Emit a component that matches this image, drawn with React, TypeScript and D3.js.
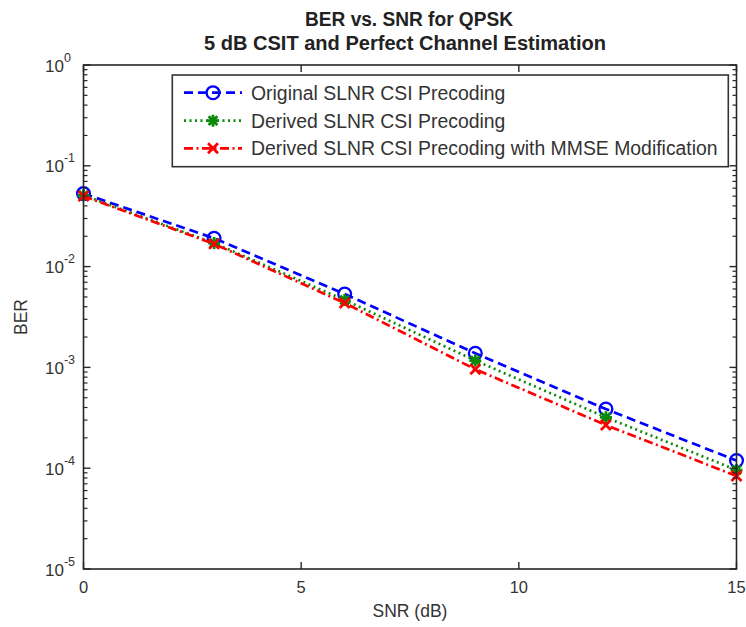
import React from "react";
import * as d3 from "d3";

const snr = [0, 3, 6, 9, 12, 15];
const berOriginal = [0.053, 0.0191, 0.00535, 0.00138, 0.000386, 0.000119];
const berDerived = [0.051, 0.0171, 0.00466, 0.00117, 0.00032, 0.0000959];
const berMMSE = [0.05, 0.0168, 0.00435, 0.000957, 0.000268, 0.0000837];
const seriesNames = [
  "Original SLNR CSI Precoding",
  "Derived SLNR CSI Precoding",
  "Derived SLNR CSI Precoding with MMSE Modification",
];
const xTicks = [0, 5, 10, 15];
const yExponents = [0, -1, -2, -3, -4, -5];
const titleLines = ["BER vs. SNR for QPSK", "5 dB CSIT and Perfect Channel Estimation"];

const W = 746, H = 627;
const L = 83.5, R = 736.5, T = 65, B = 569;
const FONT = "'Liberation Sans', Arial, Helvetica, sans-serif";
const AX = "#262626";

const styles = [
  { color: "#0000ff", dash: "9,5", marker: "o" },
  { color: "#0a8a0a", dash: "2,3.5", marker: "*" },
  { color: "#ff0000", dash: "9,3.5,2,3.5", marker: "x" },
];

function Marker({ type, x, y, color }: { type: string; x: number; y: number; color: string }) {
  if (type === "o") return <circle cx={x} cy={y} r={6.4} fill="none" stroke={color} strokeWidth={2.3} />;
  if (type === "x") {
    const s = 5;
    return <path d={`M${x - s},${y - s}L${x + s},${y + s}M${x - s},${y + s}L${x + s},${y - s}`} stroke={color} strokeWidth={2.7} />;
  }
  const s = 6, d = 4.4;
  return (
    <path
      d={`M${x - s},${y}L${x + s},${y}M${x},${y - s}L${x},${y + s}M${x - d},${y - d}L${x + d},${y + d}M${x - d},${y + d}L${x + d},${y - d}`}
      stroke={color}
      strokeWidth={2.8}
    />
  );
}

export default function App() {
  const x = d3.scaleLinear().domain([0, 15]).range([L, R]);
  const y = d3.scaleLog().domain([1e-5, 1]).range([B, T]);
  const series = [berOriginal, berDerived, berMMSE];
  const line = d3
    .line<number>()
    .x((_, i) => x(snr[i]))
    .y((v) => y(v));

  const minor: number[] = [];
  for (let e = -5; e < 0; e++) for (let k = 2; k <= 9; k++) minor.push(k * Math.pow(10, e));

  const legX0 = 172.3, legX1 = 728.3, legY0 = 75, legY1 = 166.7;
  const rowY = [92.7, 120.7, 148.3];

  return (
    <svg width={W} height={H} style={{ position: "absolute", left: 0, top: 0, background: "#fff" }} fontFamily={FONT}>
      <rect x={0} y={0} width={W} height={H} fill="#fff" />
      {/* title */}
      <text x={409} y={26} textAnchor="middle" fontSize={20} fontWeight="bold" fill="#222"
        fontFamily="'Liberation Sans Narrow', 'Liberation Sans', Arial, sans-serif"
        textLength={208} lengthAdjust="spacingAndGlyphs">{titleLines[0]}</text>
      <text x={405} y={50} textAnchor="middle" fontSize={20} fontWeight="bold" fill="#222"
        fontFamily="'Liberation Sans Narrow', 'Liberation Sans', Arial, sans-serif"
        textLength={402} lengthAdjust="spacingAndGlyphs">{titleLines[1]}</text>

      {/* series */}
      {series.map((s, si) => (
        <g key={si}>
          <path d={line(s) || ""} fill="none" stroke={styles[si].color} strokeWidth={2.7}
            strokeDasharray={styles[si].dash} />
          {s.map((v, i) => (
            <Marker key={i} type={styles[si].marker} x={x(snr[i])} y={y(v)} color={styles[si].color} />
          ))}
        </g>
      ))}

      {/* axes box */}
      <rect x={L} y={T} width={R - L} height={B - T} fill="none" stroke={AX} strokeWidth={1.6} />
      {/* x ticks */}
      {xTicks.map((t) => (
        <g key={t}>
          <line x1={x(t)} x2={x(t)} y1={B} y2={B - 7} stroke={AX} strokeWidth={1.4} />
          <line x1={x(t)} x2={x(t)} y1={T} y2={T + 7} stroke={AX} strokeWidth={1.4} />
          <text x={x(t)} y={593} textAnchor="middle" fontSize={16.5} fill="#333">{t}</text>
        </g>
      ))}
      {/* y ticks */}
      {yExponents.map((e) => {
        const yy = y(Math.pow(10, e));
        return (
          <g key={e}>
            <line x1={L} x2={L + 7} y1={yy} y2={yy} stroke={AX} strokeWidth={1.4} />
            <line x1={R} x2={R - 7} y1={yy} y2={yy} stroke={AX} strokeWidth={1.4} />
            <text x={45} y={yy + 6.5} fontSize={17} fill="#333">
              10<tspan dy={-10} fontSize={12.5}>{e}</tspan>
            </text>
          </g>
        );
      })}
      {minor.map((m, i) => (
        <g key={i}>
          <line x1={L} x2={L + 4} y1={y(m)} y2={y(m)} stroke={AX} strokeWidth={1.2} />
          <line x1={R} x2={R - 4} y1={y(m)} y2={y(m)} stroke={AX} strokeWidth={1.2} />
        </g>
      ))}
      {/* axis labels */}
      <text x={410} y={617} textAnchor="middle" fontSize={17.5} fill="#333">SNR (dB)</text>
      <text transform="translate(27,317) rotate(-90)" textAnchor="middle" fontSize={17.5} fill="#333">BER</text>

      {/* legend */}
      <rect x={legX0} y={legY0} width={legX1 - legX0} height={legY1 - legY0} fill="#fff" stroke="#333" strokeWidth={1.6} />
      {seriesNames.map((n, i) => (
        <g key={n}>
          <line x1={184} x2={242} y1={rowY[i]} y2={rowY[i]} stroke={styles[i].color} strokeWidth={2.7}
            strokeDasharray={styles[i].dash} />
          <Marker type={styles[i].marker} x={213} y={rowY[i]} color={styles[i].color} />
          <text x={251} y={rowY[i] + 7} fontSize={19.4} fill="#333">{n}</text>
        </g>
      ))}
    </svg>
  );
}
